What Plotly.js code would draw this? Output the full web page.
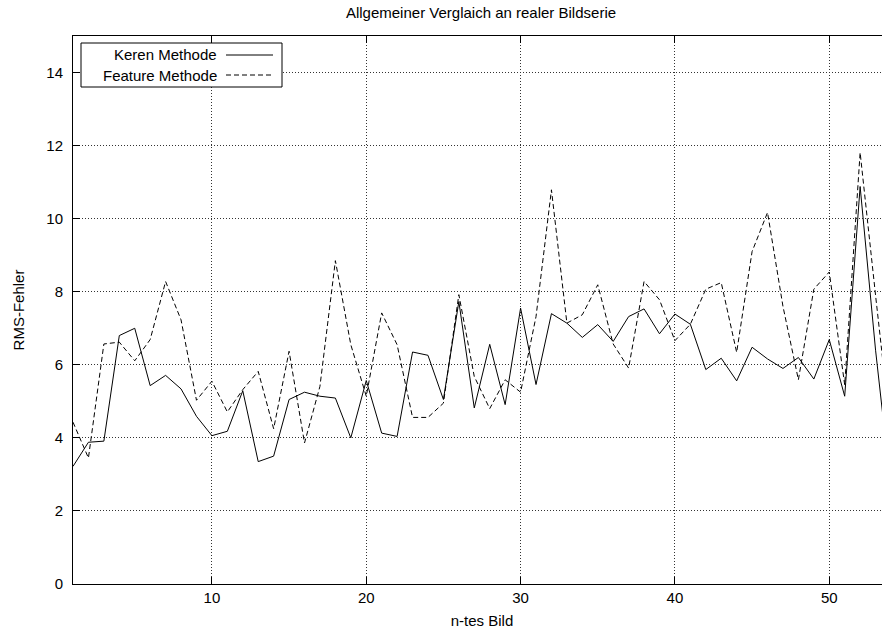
<!DOCTYPE html>
<html><head><meta charset="utf-8">
<script src="https://cdn.plot.ly/plotly-3.0.1.min.js"></script>
<style>html,body{margin:0;padding:0;overflow:hidden;background:#fff}#chart{width:891px;height:631px}</style>
</head><body><div id="chart"></div>
<script>
// n-tes Bild (frame index)
const frames = [];
for (let i = 1; i <= 54; i++) frames.push(i);

// RMS error, Keren method (solid)
const kerenValues = [3.22, 3.88, 3.91, 6.80, 7.00, 5.43, 5.71, 5.34, 4.59, 4.06,
  4.18, 5.29, 3.35, 3.50, 5.05, 5.25, 5.14, 5.09, 4.00, 5.57,
  4.13, 4.04, 6.35, 6.26, 5.05, 7.73, 4.82, 6.56, 4.91, 7.55,
  5.46, 7.40, 7.14, 6.75, 7.10, 6.64, 7.32, 7.53, 6.85, 7.39,
  7.11, 5.87, 6.18, 5.56, 6.48, 6.16, 5.90, 6.20, 5.61, 6.69,
  5.14, 10.88, 6.40, 2.60];

// RMS error, Feature method (dashed)
const featureValues = [4.43, 3.45, 6.57, 6.62, 6.11, 6.69, 8.28, 7.23, 5.03, 5.55,
  4.71, 5.32, 5.82, 4.25, 6.37, 3.86, 5.41, 8.85, 6.55, 5.14,
  7.42, 6.55, 4.56, 4.56, 4.95, 7.92, 5.68, 4.80, 5.59, 5.25,
  7.32, 10.79, 7.14, 7.37, 8.19, 6.57, 5.91, 8.28, 7.78, 6.66,
  7.11, 8.07, 8.25, 6.34, 9.10, 10.17, 7.60, 5.59, 8.07, 8.54,
  5.45, 11.81, 7.90, 4.10];

const seriesNames = ['Keren Methode', 'Feature Methode'];
const xTickVals = [10, 20, 30, 40, 50];
const yTickVals = [0, 2, 4, 6, 8, 10, 12, 14];

const W = 891, H = 631, ML = 73, MR = 0, MT = 36, MB = 47;
const PW = W - ML - MR, PH = H - MT - MB;
const px = x => (x - ML) / PW;
const py = y => (H - MB - y) / PH;

const FONT = 'Liberation Sans, Arial, Helvetica, sans-serif';

const traces = [
  {x: frames, y: kerenValues, type: 'scatter', mode: 'lines', name: seriesNames[0],
   line: {color: '#000', width: 1}, showlegend: false, hoverinfo: 'x+y'},
  {x: frames, y: featureValues, type: 'scatter', mode: 'lines', name: seriesNames[1],
   line: {color: '#000', width: 1, dash: '5px,3px'}, showlegend: false, hoverinfo: 'x+y'}
];

const gridStyle = {showgrid: true, gridcolor: '#333', gridwidth: 1, griddash: '1px,2px'};

const layout = {
  width: W, height: H,
  margin: {l: ML, r: MR, t: MT, b: MB, pad: 0},
  paper_bgcolor: '#fff', plot_bgcolor: '#fff',
  font: {family: FONT, size: 15, color: '#000'},
  title: {text: 'Allgemeiner Verglaich an realer Bildserie', font: {family: FONT, size: 15, color: '#000'},
          xref: 'container', x: 481 / W, xanchor: 'center', yref: 'container', y: 1 - 13 / H, yanchor: 'middle'},
  xaxis: Object.assign({
    range: [1, 54], tickvals: xTickVals, ticktext: xTickVals.map(String),
    ticks: 'inside', ticklen: 7, tickwidth: 1, tickcolor: '#000',
    showline: true, linecolor: '#000', linewidth: 1, mirror: 'ticks',
    zeroline: false, ticklabelstandoff: 0,
    title: {text: 'n-tes Bild', standoff: 10, font: {family: FONT, size: 15, color: '#000'}}
  }, gridStyle),
  yaxis: Object.assign({
    range: [0, 15], tickvals: yTickVals, ticktext: yTickVals.map(String),
    ticks: 'inside', ticklen: 7, tickwidth: 1, tickcolor: '#000',
    showline: true, linecolor: '#000', linewidth: 1, mirror: 'ticks',
    zeroline: false, ticklabelstandoff: 6,
    title: {text: 'RMS-Fehler', standoff: 18, font: {family: FONT, size: 15, color: '#000'}}
  }, gridStyle),
  shapes: [
    {type: 'rect', xref: 'paper', yref: 'paper', x0: px(81), x1: px(282), y0: py(87), y1: py(43),
     line: {color: '#000', width: 1}, fillcolor: '#fff', layer: 'above'},
    {type: 'line', xref: 'paper', yref: 'paper', x0: px(226), x1: px(273), y0: py(55), y1: py(55),
     line: {color: '#000', width: 1}},
    {type: 'line', xref: 'paper', yref: 'paper', x0: px(226), x1: px(273), y0: py(75), y1: py(75),
     line: {color: '#000', width: 1, dash: '5px,3px'}}
  ],
  annotations: [
    {xref: 'paper', yref: 'paper', x: px(219), y: py(55), xanchor: 'right', yanchor: 'middle',
     text: seriesNames[0], showarrow: false, font: {family: FONT, size: 15, color: '#000'}},
    {xref: 'paper', yref: 'paper', x: px(219), y: py(75), xanchor: 'right', yanchor: 'middle',
     text: seriesNames[1], showarrow: false, font: {family: FONT, size: 15, color: '#000'}}
  ]
};

Plotly.newPlot('chart', traces, layout, {displayModeBar: false, staticPlot: true});
</script>
</body></html>
